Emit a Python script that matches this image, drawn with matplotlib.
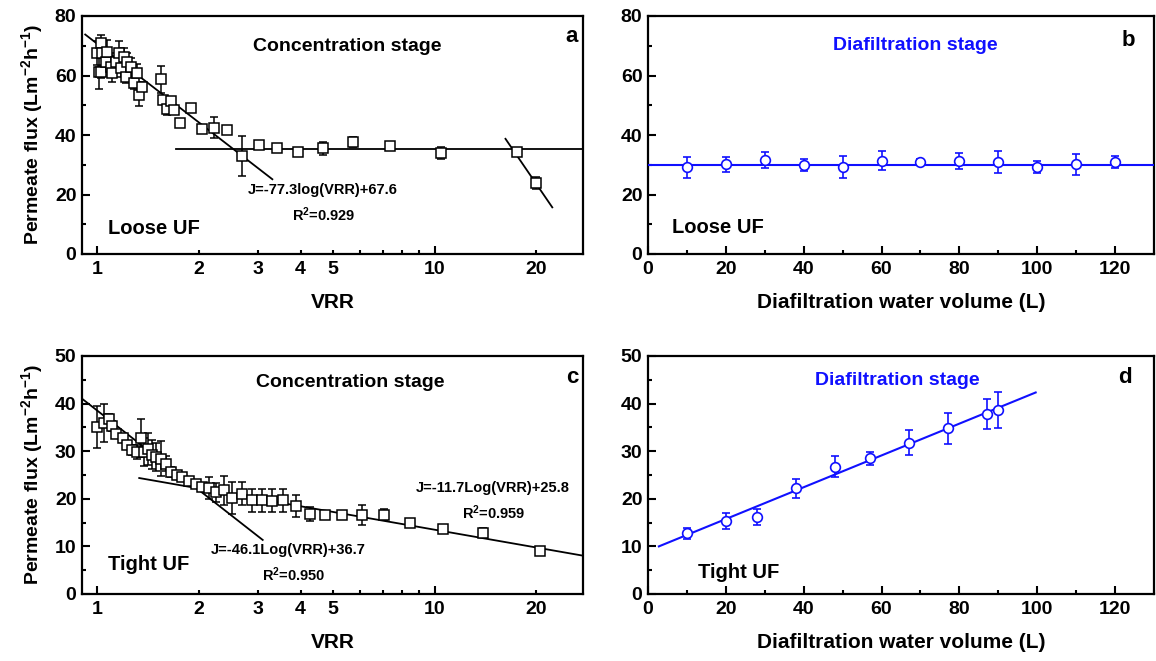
import numpy as np
import matplotlib
matplotlib.use('Agg')
import matplotlib.pyplot as plt
from matplotlib.ticker import FixedLocator, FuncFormatter, MultipleLocator

plt.rcParams['font.family'] = ['Liberation Sans', 'DejaVu Sans']
plt.rcParams['font.weight'] = 'bold'
plt.rcParams['mathtext.fontset'] = 'custom'
plt.rcParams['mathtext.rm'] = 'Liberation Sans:bold'
plt.rcParams['mathtext.bf'] = 'Liberation Sans:bold'
plt.rcParams['mathtext.default'] = 'bf'

# panel a: loose UF, concentration stage
vrr_a = [1.000, 1.011, 1.023, 1.023, 1.035, 1.058, 1.071, 1.095, 1.108, 1.133,
         1.159, 1.172, 1.199, 1.213, 1.227, 1.255, 1.284, 1.314, 1.328, 1.352,
         1.540, 1.568, 1.611, 1.648, 1.686, 1.753, 1.889, 2.047, 2.215, 2.428,
         2.688, 3.01, 3.41, 3.93, 4.67, 5.71, 7.37, 10.4, 17.5, 19.9]
flux_a = [67.5, 61.3, 71.0, 61.3, 67.5, 64.6, 68.0, 63.0, 60.7, 64.6,
          67.5, 62.4, 66.3, 59.6, 64.6, 63.0, 57.4, 60.7, 53.4, 56.2,
          58.7, 51.8, 48.6, 51.4, 48.4, 44.1, 49.0, 42.0, 42.5, 41.7,
          32.9, 36.6, 35.5, 34.4, 35.5, 37.5, 36.4, 33.8, 34.2, 23.8]
err_a = [4.0, 6.0, 2.5, 2.0, 4.5, 3.0, 4.0, 3.0, 3.0, 3.0,
         4.0, 3.0, 3.0, 2.0, 3.0, 3.0, 2.0, 3.0, 3.5, 1.5,
         4.5, 1.0, 2.0, 1.0, 1.5, 1.0, 1.0, 1.0, 3.6, 0.8,
         6.6, 1.0, 1.0, 0.8, 2.2, 1.7, 0.8, 2.0, 0.5, 2.0]

# fits drawn in panel a (slope, intercept on log10(VRR), x range)
fit_a1 = (-87.7, 70.6, 0.92, 3.30)
fit_a2 = (0.0, 35.3, 1.71, 27.5)
fit_a3 = (-166.0, 239.5, 16.2, 22.3)

# panel b: loose UF, diafiltration
vol_b = [10, 20, 30, 40, 50, 60, 70, 80, 90, 100, 110, 120]
flux_b = [29.1, 30.1, 31.6, 29.9, 29.4, 31.4, 31.0, 31.2, 31.0, 29.3, 30.1, 30.8]
err_b = [3.4, 2.4, 2.7, 2.0, 3.7, 3.3, 1.0, 2.6, 3.7, 2.1, 3.5, 2.0]
line_b = 29.8

# panel c: tight UF, concentration stage
vrr_c = [1.000, 1.046, 1.082, 1.108, 1.133, 1.191, 1.227, 1.270, 1.307, 1.344,
         1.374, 1.412, 1.455, 1.488, 1.539, 1.593, 1.648, 1.717, 1.785, 1.867,
         1.954, 2.047, 2.139, 2.241, 2.372, 2.51, 2.69, 2.88, 3.08, 3.30,
         3.55, 3.87, 4.28, 4.74, 5.32, 6.08, 7.06, 8.47, 10.6, 13.9, 20.5]
flux_c = [35.1, 36.0, 36.8, 35.3, 33.7, 32.8, 31.2, 30.3, 29.8, 32.8,
          29.8, 30.5, 29.3, 28.8, 28.4, 27.4, 25.6, 24.9, 24.5, 23.8,
          23.2, 22.5, 22.2, 21.4, 21.8, 20.2, 21.1, 19.7, 19.7, 19.6,
          19.7, 18.5, 16.8, 16.7, 16.7, 16.6, 16.7, 15.0, 13.6, 12.9, 9.0]
err_c = [4.5, 4.0, 1.0, 1.0, 0.8, 0.8, 0.8, 1.0, 1.5, 4.0,
         3.0, 3.3, 3.0, 3.0, 3.7, 1.5, 1.0, 0.8, 0.5, 0.5,
         0.8, 0.8, 2.3, 2.0, 3.0, 3.3, 2.4, 2.4, 2.4, 2.4,
         2.4, 2.3, 1.5, 0.5, 0.5, 2.0, 1.2, 0.5, 0.7, 1.0, 0.5]
fit_c1 = (-55.4, 38.5, 0.90, 3.09)
fit_c2 = (-12.4, 25.9, 1.33, 27.5)

# panel d: tight UF, diafiltration
vol_d = [10, 20, 28, 38, 48, 57, 67, 77, 87, 90]
flux_d = [12.8, 15.4, 16.2, 22.2, 26.7, 28.5, 31.8, 34.8, 37.8, 38.7]
err_d = [1.15, 1.7, 1.75, 2.0, 2.2, 1.3, 2.55, 3.3, 3.15, 3.75]
fit_d = (0.334, 9.07, 2.8, 99.6)

blue = '#1010ff'
W, H = 1156, 661
fig = plt.figure(figsize=(W / 100, H / 100), dpi=100)


def box(left, right, top, bottom):
    return [left / W, 1 - bottom / H, (right - left) / W, (bottom - top) / H]


ax_a = fig.add_axes(box(82, 583, 16, 254))
ax_b = fig.add_axes(box(648, 1154, 16, 254))
ax_c = fig.add_axes(box(82, 583, 356, 594))
ax_d = fig.add_axes(box(648, 1154, 356, 594))

TICK = 14
XLAB = 15
STAGE = 14
UF = 14.5
EQ = 10.5
LET = 16


def style(ax):
    for s in ax.spines.values():
        s.set_linewidth(1.6)
    ax.tick_params(which='both', direction='in', width=1.5, labelsize=TICK)
    ax.tick_params(which='major', length=6)
    ax.tick_params(which='minor', length=3)
    ax.tick_params(axis='y', pad=4)
    ax.tick_params(top=False, right=False)
    for lab in ax.get_xticklabels() + ax.get_yticklabels():
        lab.set_fontweight('bold')


def log_axis(ax):
    ax.set_xscale('log')
    ax.set_xlim(0.9, 27.5)
    ax.xaxis.set_major_locator(FixedLocator([1, 10]))
    ax.xaxis.set_minor_locator(FixedLocator([2, 3, 4, 5, 6, 7, 8, 9, 20]))
    ax.xaxis.set_major_formatter(FuncFormatter(lambda v, p: '%d' % v))
    ax.xaxis.set_minor_formatter(FuncFormatter(
        lambda v, p: '%d' % v if round(v) in (2, 3, 4, 5, 20) else ''))
    ax.tick_params(axis='x', which='both', labelsize=TICK, pad=5)
    ax.set_xlabel('VRR', fontsize=XLAB, fontweight='bold', labelpad=11)
    ax.set_ylabel('Permeate flux (Lm$^{-2}$h$^{-1}$)', fontsize=14,
                  fontweight='bold', labelpad=7)


def fit_line(ax, fit, color='black'):
    k, b, x0, x1 = fit
    xs = np.logspace(np.log10(x0), np.log10(x1), 50)
    ax.plot(xs, k * np.log10(xs) + b, color=color, lw=1.3, zorder=3)


def note(ax, x, y, s, size, ha='left', color='black'):
    ax.text(x, y, s, transform=ax.transAxes, ha=ha, va='center',
            fontsize=size, fontweight='bold', color=color)


mk = dict(fmt='s', mfc='white', mec='black', ms=7, mew=1.1, ecolor='black',
          elinewidth=1.1, capsize=3, capthick=1.1, zorder=4)
mk_blue = dict(fmt='o', mfc='white', mec=blue, ms=7, mew=1.2, ecolor=blue,
               elinewidth=1.2, capsize=3, capthick=1.2, zorder=4)

# a
ax_a.errorbar(vrr_a, flux_a, yerr=err_a, **mk)
for f in (fit_a1, fit_a2, fit_a3):
    fit_line(ax_a, f)
ax_a.set_ylim(0, 80)
ax_a.yaxis.set_major_locator(MultipleLocator(20))
ax_a.yaxis.set_minor_locator(MultipleLocator(10))
log_axis(ax_a)
style(ax_a)
note(ax_a, 0.529, 0.87, 'Concentration stage', STAGE, ha='center')
note(ax_a, 0.978, 0.912, 'a', LET, ha='center')
note(ax_a, 0.331, 0.269, 'J=-77.3log(VRR)+67.6', EQ)
note(ax_a, 0.419, 0.164, 'R$^{2}$=0.929', EQ)
note(ax_a, 0.052, 0.109, 'Loose UF', UF)

# b
ax_b.errorbar(vol_b, flux_b, yerr=err_b, **mk_blue)
ax_b.axhline(line_b, color=blue, lw=1.5, zorder=3)
ax_b.set_xlim(0, 130)
ax_b.set_ylim(0, 80)
ax_b.xaxis.set_major_locator(MultipleLocator(20))
ax_b.xaxis.set_minor_locator(MultipleLocator(10))
ax_b.yaxis.set_major_locator(MultipleLocator(20))
ax_b.yaxis.set_minor_locator(MultipleLocator(10))
ax_b.set_xlabel('Diafiltration water volume (L)', fontsize=XLAB,
                fontweight='bold', labelpad=11)
ax_b.tick_params(axis='x', pad=5)
style(ax_b)
note(ax_b, 0.528, 0.878, 'Diafiltration stage', STAGE, ha='center', color=blue)
note(ax_b, 0.949, 0.899, 'b', LET, ha='center')
note(ax_b, 0.047, 0.113, 'Loose UF', UF)

# c
ax_c.errorbar(vrr_c, flux_c, yerr=err_c, **mk)
for f in (fit_c1, fit_c2):
    fit_line(ax_c, f)
ax_c.set_ylim(0, 50)
ax_c.yaxis.set_major_locator(MultipleLocator(10))
ax_c.yaxis.set_minor_locator(MultipleLocator(5))
log_axis(ax_c)
style(ax_c)
note(ax_c, 0.535, 0.887, 'Concentration stage', STAGE, ha='center')
note(ax_c, 0.978, 0.908, 'c', LET, ha='center')
note(ax_c, 0.667, 0.445, 'J=-11.7Log(VRR)+25.8', EQ)
note(ax_c, 0.758, 0.340, 'R$^{2}$=0.959', EQ)
note(ax_c, 0.257, 0.185, 'J=-46.1Log(VRR)+36.7', EQ)
note(ax_c, 0.359, 0.080, 'R$^{2}$=0.950', EQ)
note(ax_c, 0.052, 0.122, 'Tight UF', UF)

# d
ax_d.errorbar(vol_d, flux_d, yerr=err_d, **mk_blue)
k, b, x0, x1 = fit_d
xs = np.linspace(x0, x1, 10)
ax_d.plot(xs, k * xs + b, color=blue, lw=1.5, zorder=3)
ax_d.set_xlim(0, 130)
ax_d.set_ylim(0, 50)
ax_d.xaxis.set_major_locator(MultipleLocator(20))
ax_d.xaxis.set_minor_locator(MultipleLocator(10))
ax_d.yaxis.set_major_locator(MultipleLocator(10))
ax_d.yaxis.set_minor_locator(MultipleLocator(5))
ax_d.set_xlabel('Diafiltration water volume (L)', fontsize=XLAB,
                fontweight='bold', labelpad=11)
ax_d.tick_params(axis='x', pad=5)
style(ax_d)
note(ax_d, 0.492, 0.899, 'Diafiltration stage', STAGE, ha='center', color=blue)
note(ax_d, 0.943, 0.908, 'd', LET, ha='center')
note(ax_d, 0.099, 0.092, 'Tight UF', UF)

fig.savefig('out.png', dpi=100)
